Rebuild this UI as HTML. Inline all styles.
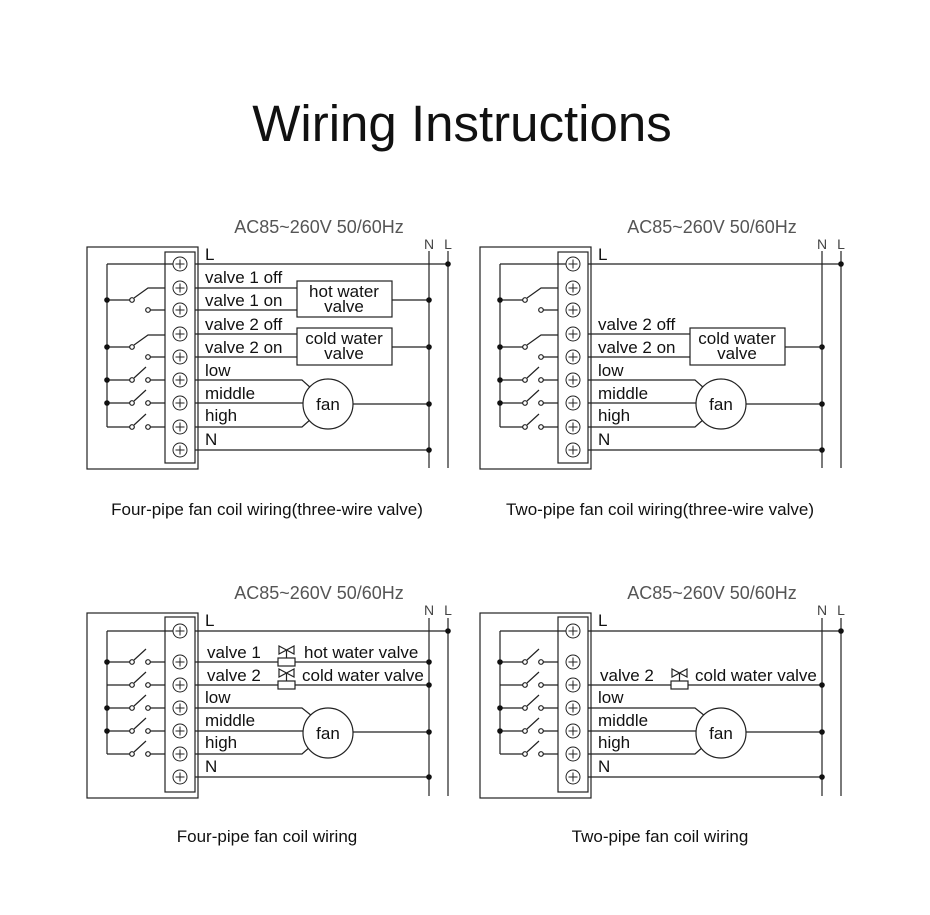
<!DOCTYPE html>
<html><head><meta charset="utf-8"><style>
html,body{margin:0;padding:0;background:#fff;}
svg{display:block;}
text{font-family:"Liberation Sans",Arial,sans-serif;fill:#111;}
.l{font-size:17px;}
.c{font-size:17px;}
.s{font-size:14px;fill:#444;}
.h{font-size:18px;fill:#555;}
</style></head><body>
<svg width="930" height="915" viewBox="0 0 930 915" xmlns="http://www.w3.org/2000/svg">
<defs>
<g id="term"><circle r="7" fill="#fff" stroke="#222" stroke-width="1"/><path d="M-4.5 0H4.5M0 -4.5V4.5" stroke="#222" stroke-width="1"/></g>
<g id="sw"><path d="M107 0H129.5M134 -2L146 -13M150.5 0H165" stroke="#222" stroke-width="1.2" fill="none"/><circle cx="132" cy="0" r="2.3" fill="#fff" stroke="#222"/><circle cx="148" cy="0" r="2.3" fill="#fff" stroke="#222"/></g>
<g id="csw"><path d="M107 0H129.5M134 -2L148 -12H165M150.5 10H165" stroke="#222" stroke-width="1.2" fill="none"/><circle cx="132" cy="0" r="2.3" fill="#fff" stroke="#222"/><circle cx="148" cy="10" r="2.3" fill="#fff" stroke="#222"/></g>
<g id="valve"><rect x="278" y="-4" width="17" height="8" fill="#fff" stroke="#222"/><path d="M286.5 -4V-12M279 -16L294 -8V-16L279 -8Z" fill="none" stroke="#222"/></g>

<g id="top" stroke-width="1.2">
<rect x="87" y="247" width="111" height="222" fill="none" stroke="#222"/>
<rect x="165" y="252" width="30" height="211" fill="none" stroke="#222"/>
<path d="M429 251V468M448 251V468M195 264H448M107 264H173M107 264V427M195 380H302L312 389M195 403H303M195 427H302L311 419M353 404H429M195 450H429" stroke="#222" fill="none"/>
<use href="#csw" y="300"/><use href="#csw" y="347"/>
<use href="#sw" y="380"/><use href="#sw" y="403"/><use href="#sw" y="427"/>
<g fill="#111"><circle cx="448" cy="264" r="2.8"/><circle cx="107" cy="300" r="2.8"/><circle cx="107" cy="347" r="2.8"/><circle cx="107" cy="380" r="2.8"/><circle cx="107" cy="403" r="2.8"/><circle cx="429" cy="404" r="2.8"/><circle cx="429" cy="450" r="2.8"/><circle cx="429" cy="347" r="2.8"/></g>
<use href="#term" x="180" y="264"/><use href="#term" x="180" y="288"/><use href="#term" x="180" y="310"/><use href="#term" x="180" y="334"/><use href="#term" x="180" y="357"/><use href="#term" x="180" y="380"/><use href="#term" x="180" y="403"/><use href="#term" x="180" y="427"/><use href="#term" x="180" y="450"/>
<circle cx="328" cy="404" r="25" fill="#fff" stroke="#222"/>
<text x="328" y="410" class="l" text-anchor="middle">fan</text>
<path d="M195 334H297M195 357H297M392 347H429" stroke="#222" fill="none"/>
<rect x="297" y="328" width="95" height="37" fill="#fff" stroke="#222"/>
<text x="344" y="344" class="l" text-anchor="middle">cold water</text>
<text x="344" y="359" class="l" text-anchor="middle">valve</text>
<text x="205" y="260" class="l">L</text>
<text x="205" y="330" class="l">valve 2 off</text>
<text x="205" y="353" class="l">valve 2 on</text>
<text x="205" y="376" class="l">low</text>
<text x="205" y="399" class="l">middle</text>
<text x="205" y="421" class="l">high</text>
<text x="205" y="445" class="l">N</text>
<text x="429" y="249" class="s" text-anchor="middle">N</text>
<text x="448" y="249" class="s" text-anchor="middle">L</text>
<text x="319" y="233" class="h" text-anchor="middle">AC85~260V  50/60Hz</text>
</g>

<g id="bot" stroke-width="1.2">
<rect x="87" y="613" width="111" height="185" fill="none" stroke="#222"/>
<rect x="165" y="617" width="30" height="175" fill="none" stroke="#222"/>
<path d="M429 618V796M448 618V796M195 631H448M107 631H173M107 631V754M195 708H302L312 716M195 731H303M195 754H302L311 746M353 732H429M195 777H429M195 685H429" stroke="#222" fill="none"/>
<use href="#sw" y="662"/><use href="#sw" y="685"/><use href="#sw" y="708"/><use href="#sw" y="731"/><use href="#sw" y="754"/>
<g fill="#111"><circle cx="448" cy="631" r="2.8"/><circle cx="107" cy="662" r="2.8"/><circle cx="107" cy="708" r="2.8"/><circle cx="107" cy="731" r="2.8"/><circle cx="429" cy="685" r="2.8"/><circle cx="429" cy="732" r="2.8"/><circle cx="429" cy="777" r="2.8"/></g>
<use href="#term" x="180" y="631"/><use href="#term" x="180" y="662"/><use href="#term" x="180" y="685"/><use href="#term" x="180" y="708"/><use href="#term" x="180" y="731"/><use href="#term" x="180" y="754"/><use href="#term" x="180" y="777"/>
<circle cx="328" cy="733" r="25" fill="#fff" stroke="#222"/>
<text x="328" y="739" class="l" text-anchor="middle">fan</text>
<use href="#valve" y="685"/>
<text x="207" y="681" class="l">valve 2</text>
<text x="302" y="681" class="l">cold water valve</text>
<text x="205" y="626" class="l">L</text>
<text x="205" y="703" class="l">low</text>
<text x="205" y="726" class="l">middle</text>
<text x="205" y="748" class="l">high</text>
<text x="205" y="772" class="l">N</text>
<text x="429" y="615" class="s" text-anchor="middle">N</text>
<text x="448" y="615" class="s" text-anchor="middle">L</text>
<text x="319" y="599" class="h" text-anchor="middle">AC85~260V  50/60Hz</text>
</g>
</defs>

<text x="462" y="141" text-anchor="middle" style="font-size:51px;fill:#111">Wiring Instructions</text>

<use href="#top"/>
<g stroke-width="1.2">
<path d="M195 288H297M195 310H297M392 300H429" stroke="#222" fill="none"/>
<rect x="297" y="281" width="95" height="36" fill="#fff" stroke="#222"/>
<circle cx="429" cy="300" r="2.8" fill="#111"/>
</g>
<text x="344" y="297" class="l" text-anchor="middle">hot water</text>
<text x="344" y="312" class="l" text-anchor="middle">valve</text>
<text x="205" y="283" class="l">valve 1 off</text>
<text x="205" y="306" class="l">valve 1 on</text>

<g transform="translate(393,0)"><use href="#top"/></g>

<use href="#bot"/>
<g stroke-width="1.2">
<path d="M195 662H429" stroke="#222" fill="none"/>
<circle cx="429" cy="662" r="2.8" fill="#111"/>
<use href="#valve" y="662"/>
</g>
<text x="207" y="658" class="l">valve 1</text>
<text x="304" y="658" class="l">hot water valve</text>

<g transform="translate(393,0)"><use href="#bot"/></g>

<text x="267" y="515" class="c" text-anchor="middle">Four-pipe fan coil wiring(three-wire valve)</text>
<text x="660" y="515" class="c" text-anchor="middle">Two-pipe fan coil wiring(three-wire valve)</text>
<text x="267" y="842" class="c" text-anchor="middle">Four-pipe fan coil wiring</text>
<text x="660" y="842" class="c" text-anchor="middle">Two-pipe fan coil wiring</text>
</svg>
</body></html>
